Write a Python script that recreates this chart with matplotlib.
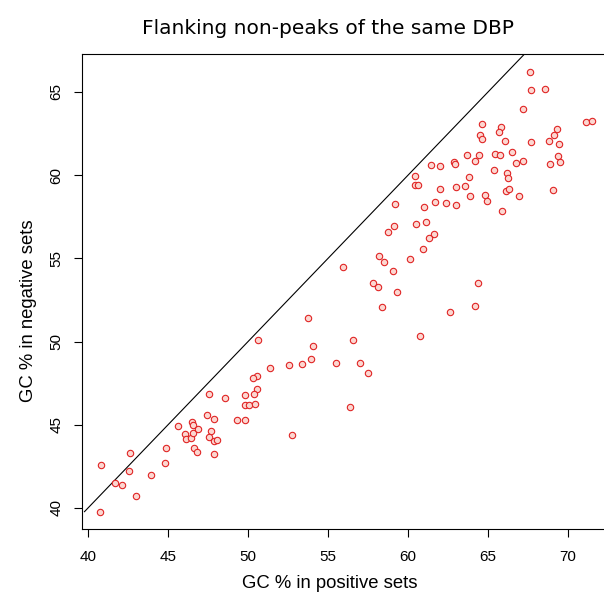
import numpy as np
import matplotlib
matplotlib.use("Agg")
import matplotlib.pyplot as plt

# GC % per DBP: positive sets (x) vs flanking non-peak sets (y)
gc_positive = [
    40.77, 40.81, 41.67, 42.13, 42.65, 42.58, 43.02, 43.96, 44.89, 44.83,
    45.60, 46.08, 46.10, 46.42, 46.48, 46.54, 46.54, 46.90, 46.60, 46.79,
    47.54, 47.44, 47.90, 47.71, 47.58, 47.90, 48.04, 47.85, 48.56, 49.33,
    49.79, 49.81, 49.81,
    58.19, 58.48, 60.10, 55.94, 59.08, 57.83, 58.10, 59.31, 58.40, 53.77,
    50.65, 56.56, 54.08, 53.96, 53.38, 52.58, 51.40, 55.50, 57.00, 57.48,
    50.54, 50.29, 50.54, 50.38, 50.06, 50.46, 56.38, 52.77, 60.77,
    60.42, 60.60, 62.02, 62.98, 63.54, 63.90, 64.83, 64.92, 66.13, 66.33,
    66.94, 69.08, 65.90, 59.19, 61.02, 61.67, 62.40, 63.02, 60.48, 61.15,
    59.13, 58.77, 61.63, 61.31, 60.92, 64.40, 64.17, 62.60,
    67.65, 67.71, 68.58, 67.21, 71.15, 71.48, 64.60, 65.79, 65.71, 64.52,
    64.63, 66.08, 67.71, 69.29, 69.13, 68.79, 69.44, 69.35, 69.48, 68.88,
    66.48, 65.44, 65.77, 63.71, 64.42, 64.17, 66.77, 67.21, 62.90, 62.94,
    61.42, 62.00, 65.35, 63.83, 66.17, 66.27, 60.46,
]
gc_negative = [
    39.78, 42.58, 41.52, 41.38, 43.32, 42.22, 40.74, 41.96, 43.62, 42.69,
    44.93, 44.45, 44.15, 44.19, 45.19, 44.97, 44.51, 44.77, 43.62, 43.35,
    46.85, 45.57, 45.33, 44.65, 44.27, 44.05, 44.09, 43.26, 46.59, 45.31,
    45.29, 46.77, 46.17,
    55.13, 54.77, 54.99, 54.50, 54.26, 53.50, 53.26, 52.96, 52.08, 51.40,
    50.11, 50.11, 49.75, 48.95, 48.67, 48.59, 48.40, 48.69, 48.73, 48.11,
    47.93, 47.81, 47.17, 46.83, 46.17, 46.25, 46.09, 44.37, 50.36,
    59.43, 59.41, 59.15, 59.31, 59.33, 58.73, 58.79, 58.47, 59.03, 59.17,
    58.73, 59.13, 57.83, 58.25, 58.09, 58.41, 58.35, 58.23, 57.05, 57.19,
    56.93, 56.57, 56.45, 56.24, 55.56, 53.52, 52.16, 51.76,
    66.22, 65.12, 65.18, 63.98, 63.22, 63.28, 63.10, 62.90, 62.60, 62.44,
    62.16, 62.08, 62.00, 62.76, 62.42, 62.06, 61.86, 61.18, 60.79, 60.67,
    61.37, 61.29, 61.21, 61.19, 61.19, 60.85, 60.75, 60.83, 60.78, 60.66,
    60.61, 60.57, 60.29, 59.89, 60.11, 59.85, 59.93,
]
x_ticks = [40, 45, 50, 55, 60, 65, 70]
y_ticks = [40, 45, 50, 55, 60, 65]

W, H = 604, 597
fig = plt.figure(figsize=(W / 100, H / 100), dpi=100)

# plot box in pixels (right side runs past the picture edge)
left, right, top, bottom = 81.5, 610, 53.5, 529
ax = fig.add_axes([left / W, 1 - bottom / H, (right - left) / W, (bottom - top) / H])

x = np.array(gc_positive)
y = np.array(gc_negative)

lo = min(x.min(), y.min())
hi = max(x.max(), y.max())
ax.plot([lo, hi], [lo, hi], color="black", lw=0.8, zorder=1)

ax.scatter(x, y, s=21, facecolor="#fcd7d1", edgecolor="#e02424", linewidth=0.8, zorder=2)

ax.set_xlim(40 - (88 - left) / 16, 40 + (right - 88) / 16)
ax.set_ylim(40 - (bottom - 508) / 16.64, 40 + (508 - top) / 16.64)

ax.set_xticks(x_ticks)
ax.set_yticks(y_ticks)
ax.tick_params(direction="out", length=5.8, width=0.8, labelsize=11)
ax.tick_params(axis="x", pad=9)
ax.tick_params(axis="y", pad=7)
for lab in ax.get_xticklabels() + ax.get_yticklabels():
    lab.set_family("Liberation Sans")
for lab in ax.get_yticklabels():
    lab.set_rotation(90)
    lab.set_va("center")
for sp in ax.spines.values():
    sp.set_linewidth(0.8)

fig.text(328 / W, 1 - 28 / H, "Flanking non-peaks of the same DBP",
         ha="center", va="center", fontsize=14.5, family="DejaVu Sans")
fig.text(330 / W, 1 - 583 / H, "GC % in positive sets",
         ha="center", va="center", fontsize=13.3, family="Liberation Sans")
fig.text(29 / W, 1 - 311 / H, "GC % in negative sets", rotation=90,
         ha="center", va="center", fontsize=13.3, family="Liberation Sans")

fig.savefig("out.png", dpi=100)
